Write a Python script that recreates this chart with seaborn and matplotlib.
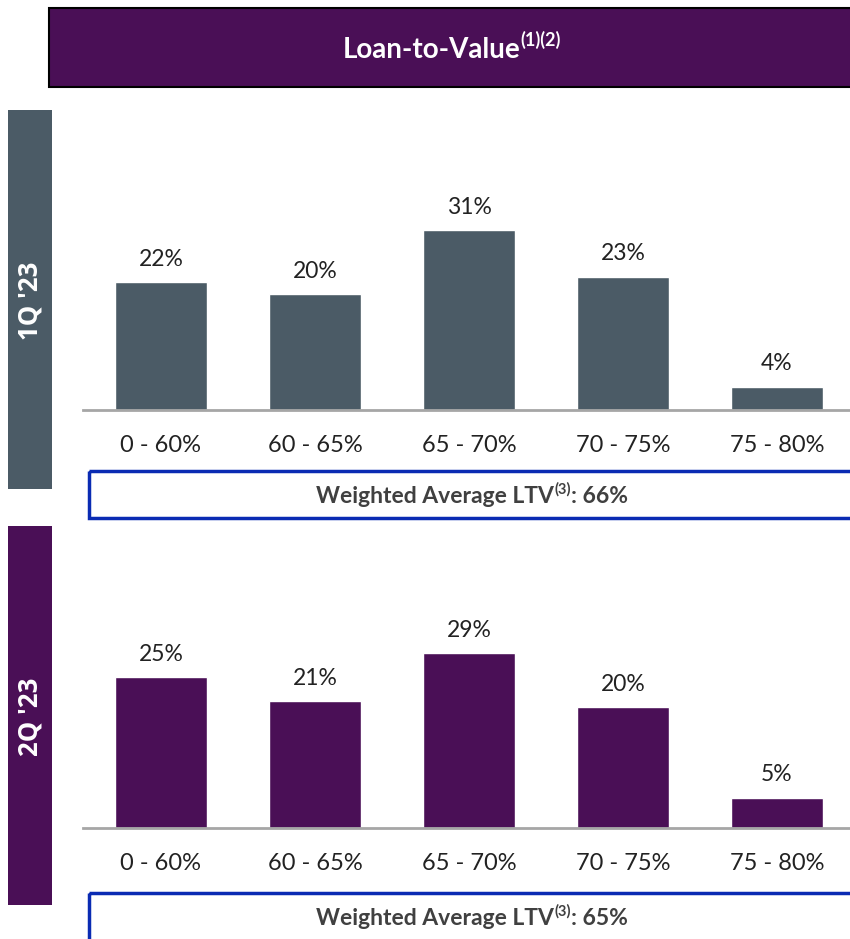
import matplotlib
matplotlib.use("Agg")
import matplotlib.pyplot as plt
import seaborn as sns
import pandas as pd
from matplotlib.patches import Rectangle

# ---- data ----
categories = ["0 - 60%", "60 - 65%", "65 - 70%", "70 - 75%", "75 - 80%"]
ltv_1q = [22, 20, 31, 23, 4]
ltv_2q = [25, 21, 29, 20, 5]
periods = ["1Q '23", "2Q '23"]
weighted_avg = ["66%", "65%"]
title = "Loan-to-Value"
title_note = "(1)(2)"
wa_label = "Weighted Average LTV"
wa_note = "(3)"

PURPLE = "#4A0F56"
SLATE = "#4B5B66"
BLUE = "#0A2BB3"
TEXT = "#404040"
AXIS = "#A6A6A6"
W, H = 850, 939

sns.set_theme(style="white")
plt.rcParams['font.family'] = ['Lato', 'DejaVu Sans']

fig = plt.figure(figsize=(8.5, 9.39), dpi=100)
bg = fig.add_axes([0, 0, 1, 1])
bg.set_xlim(0, W)
bg.set_ylim(H, 0)
bg.axis('off')

# header
bg.add_patch(Rectangle((49, 8), 820, 79, facecolor=PURPLE, edgecolor='black', lw=1.5))
# side bands
bg.add_patch(Rectangle((8, 110), 44, 379, facecolor=SLATE, edgecolor='none'))
bg.add_patch(Rectangle((8, 526), 44, 379, facecolor=PURPLE, edgecolor='none'))
# weighted average boxes
bg.add_patch(Rectangle((89, 471), 790, 47, fill=False, edgecolor=BLUE, lw=2.5))
bg.add_patch(Rectangle((89, 893), 790, 70, fill=False, edgecolor=BLUE, lw=2.5))

renderer = fig.canvas.get_renderer()


def rich(xc, y, parts, color):
    objs = []
    for s, size, dy in parts:
        t = bg.text(0, y - dy, s, fontsize=size, fontweight='bold', color=color,
                    ha='left', va='baseline')
        objs.append(t)
    widths = [t.get_window_extent(renderer).width for t in objs]
    x = xc - sum(widths) / 2
    for t, w in zip(objs, widths):
        t.set_x(x)
        x += w


rich(452, 58, [(title, 20, 0), (title_note, 13, 12)], 'white')
rich(472, 503, [(wa_label, 16.5, 0), (wa_note, 10.5, 9), (": " + weighted_avg[0], 16.5, 0)], TEXT)
rich(472, 925, [(wa_label, 16.5, 0), (wa_note, 10.5, 9), (": " + weighted_avg[1], 16.5, 0)], TEXT)

bg.text(30, 301, periods[0], rotation=90, ha='center', va='center', color='white',
        fontsize=18.5, fontweight='bold', family=['Open Sans', 'DejaVu Sans'])
bg.text(30, 717, periods[1], rotation=90, ha='center', va='center', color='white',
        fontsize=18.5, fontweight='bold', family=['Open Sans', 'DejaVu Sans'])


def pix_axes(x0, y_top, x1, y_bottom):
    return fig.add_axes([x0 / W, 1 - y_bottom / H, (x1 - x0) / W, (y_bottom - y_top) / H])


def draw(ax, values, color, ymax):
    df = pd.DataFrame({"cat": categories, "val": values})
    sns.barplot(data=df, x="cat", y="val", color=color, width=0.6, saturation=1,
                ax=ax)
    ax.set_xlim(-0.506, 4.474)
    ax.set_ylim(0, ymax)
    ax.patch.set_alpha(0)
    for s in ["top", "right", "left"]:
        ax.spines[s].set_visible(False)
    ax.spines["bottom"].set_color(AXIS)
    ax.spines["bottom"].set_linewidth(2)
    ax.set_yticks([])
    ax.set_xlabel("")
    ax.set_ylabel("")
    ax.tick_params(axis='x', length=0, pad=18, labelsize=17, labelcolor='#222222')
    ax.bar_label(ax.containers[0], labels=[f"{v}%" for v in values], padding=9,
                 fontsize=16.5, color='#222222')


ax1 = pix_axes(83, 200, 850, 410)
draw(ax1, ltv_1q, SLATE, 210 / 5.8)
ax2 = pix_axes(83, 620, 850, 828)
draw(ax2, ltv_2q, PURPLE, 208 / 6.03)

fig.savefig("out.png", dpi=100)
